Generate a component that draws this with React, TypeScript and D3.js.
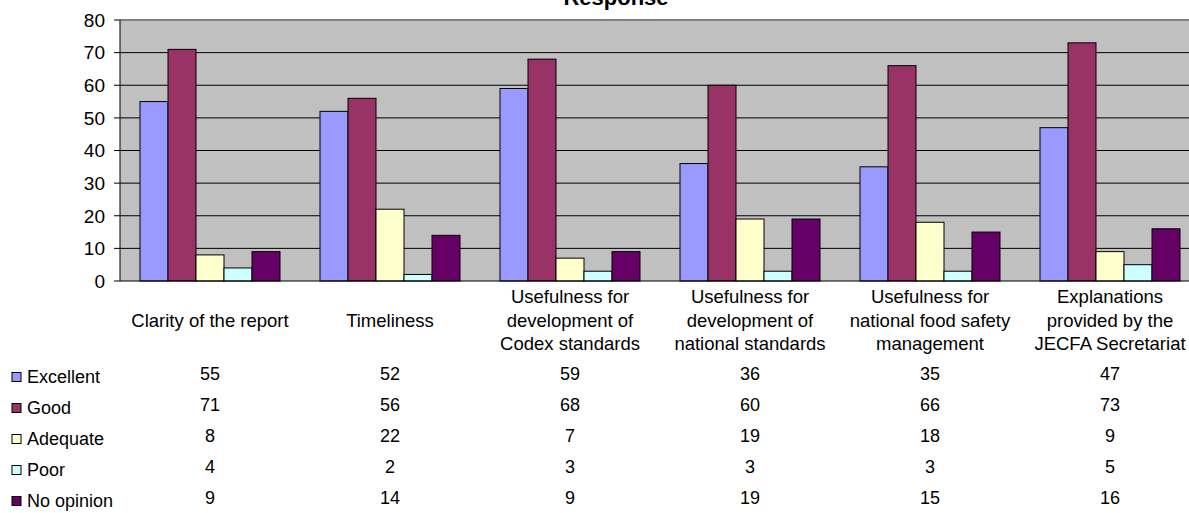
import * as d3 from "d3";
import * as React from "react";

const categories = [
  ["Clarity of the report"],
  ["Timeliness"],
  ["Usefulness for", "development of", "Codex standards"],
  ["Usefulness for", "development of", "national standards"],
  ["Usefulness for", "national food safety", "management"],
  ["Explanations", "provided by the", "JECFA Secretariat"],
];
const seriesNames = ["Excellent", "Good", "Adequate", "Poor", "No opinion"];
const seriesColors = ["#9999FF", "#993366", "#FFFFCC", "#CCFFFF", "#660066"];
const excellent = [55, 52, 59, 36, 35, 47];
const good = [71, 56, 68, 60, 66, 73];
const adequate = [8, 22, 7, 19, 18, 9];
const poor = [4, 2, 3, 3, 3, 5];
const noOpinion = [9, 14, 9, 19, 15, 16];
const yTicks = [0, 10, 20, 30, 40, 50, 60, 70, 80];

const values = [excellent, good, adequate, poor, noOpinion];

export default function App() {
  const width = 1189,
    height = 513;
  const margin = { left: 120, top: 20 };
  const plotW = 1080,
    plotH = 261;
  const font = "'Liberation Sans', Arial, sans-serif";

  const x = d3
    .scaleBand<number>()
    .domain(d3.range(categories.length))
    .range([0, plotW]);
  const inner = d3
    .scaleBand<number>()
    .domain(d3.range(seriesNames.length))
    .range([20, x.bandwidth() - 20]);
  const y = d3.scaleLinear().domain([0, 80]).range([plotH, 0]);

  // vertical centre of each data-table row
  const rowY = [377, 408, 439, 470, 501];

  return (
    <svg
      width={width}
      height={height}
      style={{ position: "absolute", left: 0, top: 0, background: "#fff" }}
      fontFamily={font}
    >
      <text
        x={616}
        y={5}
        textAnchor="middle"
        fontSize={22}
        fontWeight="bold"
      >
        Response
      </text>
      <g transform={`translate(${margin.left},${margin.top})`}>
        <rect x={0} y={0} width={plotW} height={plotH} fill="#C0C0C0" />
        {yTicks.slice(1, -1).map((t) => (
          <line
            key={t}
            x1={0}
            x2={plotW}
            y1={y(t)}
            y2={y(t)}
            stroke="#000"
            strokeWidth={1}
          />
        ))}
        <line x1={0} x2={plotW} y1={0} y2={0} stroke="#808080" strokeWidth={2} />
        {values.map((vals, s) =>
          vals.map((v, c) => (
            <rect
              key={`${s}-${c}`}
              x={x(c)! + inner(s)!}
              y={y(v)}
              width={inner.bandwidth()}
              height={plotH - y(v)}
              fill={seriesColors[s]}
              stroke="#000"
              strokeWidth={1}
            />
          ))
        )}
        <line x1={0} x2={0} y1={0} y2={plotH} stroke="#000" />
        <line x1={0} x2={plotW} y1={plotH} y2={plotH} stroke="#000" />
        {yTicks.map((t) => (
          <g key={t} transform={`translate(0,${y(t)})`}>
            <line x1={-6} x2={0} stroke="#000" />
            <text x={-15} dy="0.36em" textAnchor="end" fontSize={19}>
              {t}
            </text>
          </g>
        ))}
      </g>
      {categories.map((lines, c) => {
        const cx = margin.left + x(c)! + x.bandwidth() / 2;
        const start = 320 - ((lines.length - 1) * 23.5) / 2;
        return (
          <text key={c} textAnchor="middle" fontSize={18.5} fill="#000">
            {lines.map((l, i) => (
              <tspan key={i} x={cx} y={start + i * 23.5} dy="0.36em">
                {l}
              </tspan>
            ))}
          </text>
        );
      })}
      {seriesNames.map((name, s) => (
        <g key={name}>
          <rect
            x={12}
            y={rowY[s] - 4.5}
            width={9}
            height={9}
            fill={seriesColors[s]}
            stroke="#000"
          />
          <text x={27} y={rowY[s]} dy="0.36em" fontSize={18}>
            {name}
          </text>
          {values[s].map((v, c) => (
            <text
              key={c}
              x={margin.left + x(c)! + x.bandwidth() / 2}
              y={rowY[s] - 3}
              dy="0.36em"
              textAnchor="middle"
              fontSize={18}
            >
              {v}
            </text>
          ))}
        </g>
      ))}
    </svg>
  );
}
